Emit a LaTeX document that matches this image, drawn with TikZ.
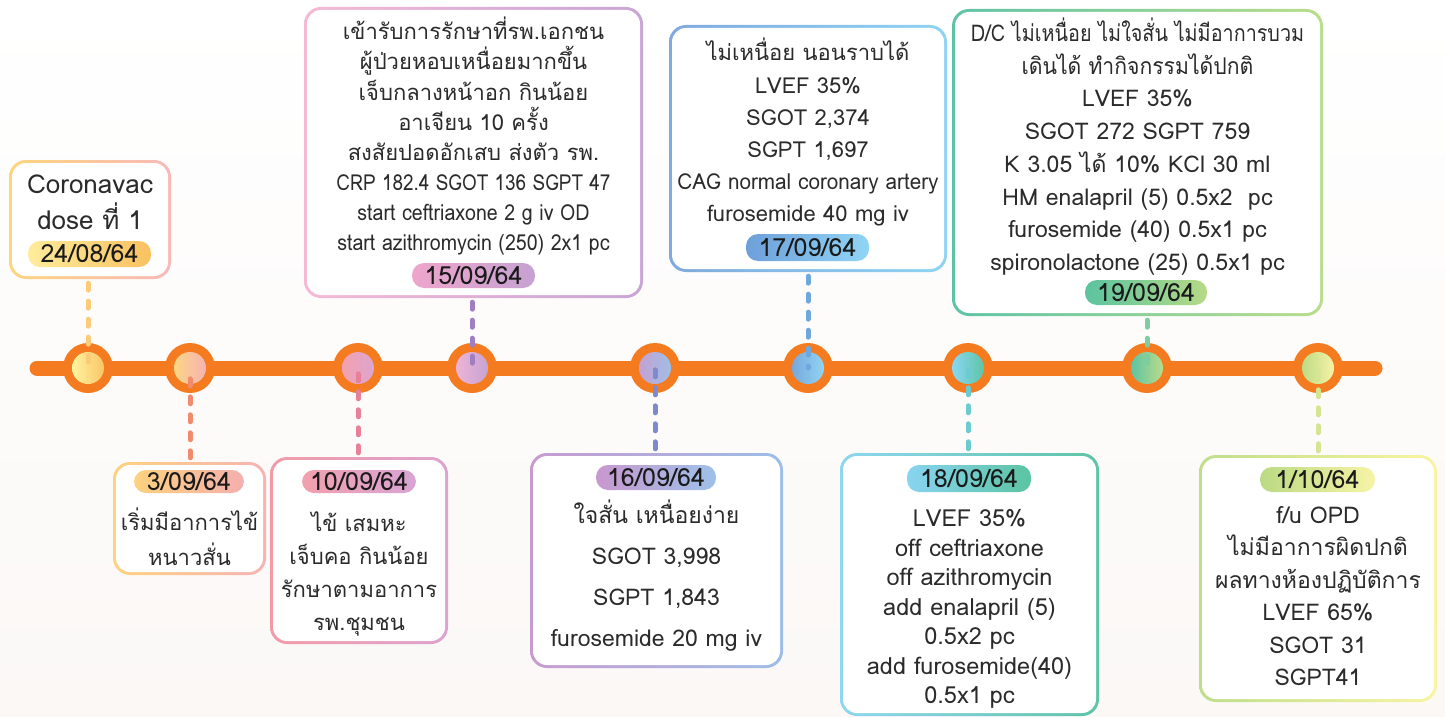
\documentclass[tikz,border=0pt]{standalone}
\usepackage{fontspec}
\usepackage{graphicx}
\setmainfont{Loma}[Script=Thai]
\definecolor{tlorange}{HTML}{F47B20}
\definecolor{txt}{HTML}{2B2B2B}
\definecolor{datetxt}{HTML}{1A1A1A}
\definecolor{bgbot}{HTML}{FBF8F6}
\newcommand\setfs[2]{\fontsize{#1}{#2}\selectfont}
\newcommand\hs[2]{\scalebox{#1}[1]{#2}}
\newcommand\tlines[6]{\foreach \myline [count=\i] in {#6} \node[body, font=\setfs{#5}{#5}, anchor=base] (#1\i) at (#2, {#3+(\i-1)*#4}) {\myline};}
\tikzset{
  tl/.style={line width=15pt, line cap=round, draw=tlorange},
  outerdot/.style={circle, fill=tlorange, minimum size=50pt, inner sep=0pt},
  innerdot/.style={circle, minimum size=32pt, inner sep=0pt},
  frame/.style={rectangle, rounded corners=17pt, inner sep=0pt,
    path picture={\fill[white, rounded corners=14pt] ([shift={(3pt,3pt)}]path picture bounding box.south west) rectangle ([shift={(-3pt,-3pt)}]path picture bounding box.north east);}},
  datepill/.style={rectangle, rounded corners=12pt, inner sep=0pt, text=datetxt, font=\setfs{25}{25}},
  conn/.style={line width=5pt, line cap=round, dash pattern=on 7pt off 11pt, shorten <=4pt},
  body/.style={align=center, text=txt, inner sep=0pt}
}
\begin{document}
\begin{tikzpicture}[x=1pt,y=-1pt]
\useasboundingbox (0,0) rectangle (1445,717);
\shade[top color=white, bottom color=bgbot] (0,0) rectangle (1445,717);
% timeline
\coordinate (tlL) at (37,368);
\coordinate (tlR) at (1375,368);
\draw[tl] (tlL) -- (tlR);
% dots
\foreach \x/\n/\ca/\cb in {88/1/FFF3A0/F9C566, 190/2/FCD585/F5B3B2, 358/3/F3A1AE/DCA5D0, 472/4/EDB3D6/C6A3D3, 655/5/C5A0D1/9EBFE8, 808/6/78A8DC/90D4F3, 968/7/8AD7F1/5EC4A6, 1147/8/5EC3A3/B9DC8A, 1318/9/BEDC85/F6F2A6}{
  \node[outerdot] (o\n) at (\x,368) {};
  \definecolor{ia}{HTML}{\ca}\definecolor{ib}{HTML}{\cb}
  \node[innerdot, left color=ia, right color=ib] (i\n) at (\x,368) {};
}
% boxes
\definecolor{b1a}{HTML}{FDD57E}\definecolor{b1b}{HTML}{F8B9B9}
\definecolor{b2a}{HTML}{FDD27E}\definecolor{b2b}{HTML}{F6B3B3}
\definecolor{b3a}{HTML}{F29BA7}\definecolor{b3b}{HTML}{DDA3CF}
\definecolor{b4a}{HTML}{F5B9D5}\definecolor{b4b}{HTML}{C8A5D6}
\definecolor{b5a}{HTML}{C89BD0}\definecolor{b5b}{HTML}{9EBDE7}
\definecolor{b6a}{HTML}{7FA9DF}\definecolor{b6b}{HTML}{8FD4F3}
\definecolor{b7a}{HTML}{8ED7EF}\definecolor{b7b}{HTML}{5EC4A7}
\definecolor{b8a}{HTML}{5EC3A6}\definecolor{b8b}{HTML}{B9DD8B}
\definecolor{b9a}{HTML}{BEDE8B}\definecolor{b9b}{HTML}{F9F4A1}
\node[frame, left color=b1a, right color=b1b, minimum width=162pt, minimum height=119pt] (b1) at (90,219.5) {};
\node[frame, left color=b2a, right color=b2b, minimum width=153pt, minimum height=113pt] (b2) at (189.5,518.5) {};
\node[frame, left color=b3a, right color=b3b, minimum width=178pt, minimum height=187pt] (b3) at (359,550.5) {};
\node[frame, left color=b4a, right color=b4b, minimum width=339pt, minimum height=291pt] (b4) at (473.5,152.5) {};
\node[frame, left color=b5a, right color=b5b, minimum width=253pt, minimum height=215pt] (b5) at (656.5,560.5) {};
\node[frame, left color=b6a, right color=b6b, minimum width=278pt, minimum height=247pt] (b6) at (808,148.5) {};
\node[frame, left color=b7a, right color=b7b, minimum width=259pt, minimum height=263pt] (b7) at (969.5,584.5) {};
\node[frame, left color=b8a, right color=b8b, minimum width=371pt, minimum height=307pt] (b8) at (1137.5,162.5) {};
\node[frame, left color=b9a, right color=b9b, minimum width=238pt, minimum height=247pt] (b9) at (1318,578.5) {};
% date pills
\definecolor{p1a}{HTML}{FFEC9C}\definecolor{p1b}{HTML}{F9C160}
\definecolor{p2a}{HTML}{FCD27E}\definecolor{p2b}{HTML}{F4AFAF}
\definecolor{p3a}{HTML}{F2A0AE}\definecolor{p3b}{HTML}{D8A4D4}
\definecolor{p4a}{HTML}{EEA5CB}\definecolor{p4b}{HTML}{C6A2D3}
\definecolor{p5a}{HTML}{C898CF}\definecolor{p5b}{HTML}{9DC1E9}
\definecolor{p6a}{HTML}{6E9FDA}\definecolor{p6b}{HTML}{90D5F5}
\definecolor{p7a}{HTML}{88D4F1}\definecolor{p7b}{HTML}{5BC4A2}
\definecolor{p8a}{HTML}{5BC3A0}\definecolor{p8b}{HTML}{B6DA86}
\definecolor{p9a}{HTML}{BBDA83}\definecolor{p9b}{HTML}{F7F3A7}
\node[datepill, left color=p1a, right color=p1b, minimum width=123pt, minimum height=26pt] (d1) at (89.5,254) {24/08/64};
\node[datepill, left color=p2a, right color=p2b, minimum width=110pt, minimum height=23pt] (d2) at (189,481.5) {3/09/64};
\node[datepill, left color=p3a, right color=p3b, minimum width=114pt, minimum height=23pt] (d3) at (359,481.5) {10/09/64};
\node[datepill, left color=p4a, right color=p4b, minimum width=123pt, minimum height=25pt] (d4) at (473.5,275.5) {15/09/64};
\node[datepill, left color=p5a, right color=p5b, minimum width=120pt, minimum height=25pt] (d5) at (656,477.5) {16/09/64};
\node[datepill, left color=p6a, right color=p6b, minimum width=123pt, minimum height=27pt] (d6) at (807.5,247.5) {17/09/64};
\node[datepill, left color=p7a, right color=p7b, minimum width=124pt, minimum height=27pt] (d7) at (969,478.5) {18/09/64};
\node[datepill, left color=p8a, right color=p8b, minimum width=122pt, minimum height=25pt] (d8) at (1146,292.5) {19/09/64};
\node[datepill, left color=p9a, right color=p9b, minimum width=115pt, minimum height=25pt] (d9) at (1317.5,479.5) {1/10/64};
% connectors
\definecolor{c1}{HTML}{FBCB7A}\definecolor{c2}{HTML}{F28A6E}\definecolor{c3}{HTML}{E8809A}
\definecolor{c4}{HTML}{9F7EC2}\definecolor{c5}{HTML}{7E8ACB}\definecolor{c6}{HTML}{6FA8DD}
\definecolor{c7}{HTML}{6CCBCF}\definecolor{c8}{HTML}{7FCCA0}\definecolor{c9}{HTML}{D6E593}
\draw[conn, c1] (b1.south -| o1.center) -- (o1.center);
\draw[conn, c2] (b2.north -| o2.center) -- (o2.center);
\draw[conn, c3] (b3.north -| o3.center) -- (o3.center);
\draw[conn, c4] (b4.south -| o4.center) -- (o4.center);
\draw[conn, c5] (b5.north -| o5.center) -- (o5.center);
\draw[conn, c6] (b6.south -| o6.center) -- (o6.center);
\draw[conn, c7] (b7.north -| o7.center) -- (o7.center);
\draw[conn, c8] (b8.south -| o8.center) -- (o8.center);
\draw[conn, c9] (b9.north -| o9.center) -- (o9.center);
% texts
\tlines{t1}{90}{193}{36}{26}{Coronavac, dose ที่ 1}
\tlines{t2}{189.5}{530}{35}{22}{เริ่มมีอาการไข้, หนาวสั่น}
\tlines{t3}{359}{531}{33}{22}{ไข้ เสมหะ, เจ็บคอ กินน้อย, รักษาตามอาการ, รพ.ชุมชน}
\tlines{t4}{473.5}{40}{30}{22}{เข้ารับการรักษาที่รพ.เอกชน, ผู้ป่วยหอบเหนื่อยมากขึ้น, เจ็บกลางหน้าอก กินน้อย, อาเจียน 10 ครั้ง, สงสัยปอดอักเสบ ส่งตัว รพ., \hs{0.86}{CRP 182.4 SGOT 136 SGPT 47}, \hs{0.89}{start ceftriaxone 2 g iv OD}, \hs{0.89}{start azithromycin (250) 2x1 pc}}
\tlines{t5}{656.5}{523.5}{41}{23}{ใจสั่น เหนื่อยง่าย, {SGOT 3,998}, {SGPT 1,843}, furosemide 20 mg iv}
\tlines{t6}{808}{61}{32}{22}{ไม่เหนื่อย นอนราบได้, LVEF 35\%, {SGOT 2,374}, {SGPT 1,697}, \hs{0.94}{CAG normal coronary artery}, furosemide 40 mg iv}
\tlines{t7}{969.5}{526.5}{29.5}{23.5}{LVEF 35\%, off ceftriaxone, off azithromycin, add enalapril (5), 0.5x2 pc, add furosemide(40), 0.5x1 pc}
\tlines{t8}{1137.5}{41.5}{32.7}{23}{\hs{0.86}{D/C ไม่เหนื่อย ไม่ใจสั่น ไม่มีอาการบวม}, \hs{0.92}{เดินได้ ทำกิจกรรมได้ปกติ}, LVEF 35\%, SGOT 272 SGPT 759, K 3.05 ได้ 10\% KCl 30 ml, HM enalapril (5) 0.5x2 \ pc, furosemide (40) 0.5x1 pc, spironolactone (25) 0.5x1 pc}
\tlines{t9}{1318}{523.5}{32.4}{23}{f/u OPD, ไม่มีอาการผิดปกติ, ผลทางห้องปฏิบัติการ, LVEF 65\%, SGOT 31, SGPT41}
\end{tikzpicture}
\end{document}
